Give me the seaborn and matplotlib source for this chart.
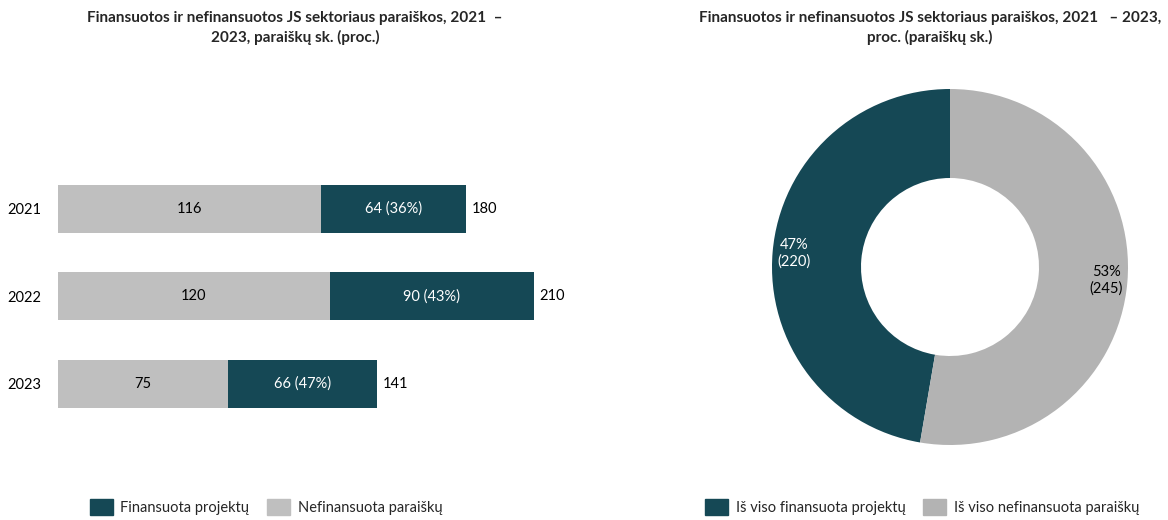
import numpy as np
import pandas as pd
import matplotlib.pyplot as plt
import seaborn as sns
from matplotlib.patches import Patch

# Data

years = ['2021', '2022', '2023']
funded = [64, 90, 66]
not_funded = [116, 120, 75]
funded_pct = [36, 43, 47]

donut_labels = ['Iš viso finansuota projektų', 'Iš viso nefinansuota paraiškų']
donut_values = [220, 245]

teal = '#154855'
bar_grey = '#BFBFBF'
donut_grey = '#B3B3B3'

sns.set_theme(style='white')
plt.rcParams['font.family'] = ['Lato', 'DejaVu Sans']

df = pd.DataFrame({'year': years, 'funded': funded, 'not_funded': not_funded})
df['total'] = df['funded'] + df['not_funded']

fig = plt.figure(figsize=(11.68, 5.2), dpi=100)

# Bars (stacked: total in teal, grey part drawn on top)

ax1 = fig.add_axes([58 / 1168, 0.1615, 521 / 1168, 0.538])
sns.barplot(data=df, x='total', y='year', color=teal, width=0.55, ax=ax1,
            saturation=1, linewidth=0)
sns.barplot(data=df, x='not_funded', y='year', color=bar_grey, width=0.55, ax=ax1,
            saturation=1, linewidth=0)

ax1.bar_label(ax1.containers[0], padding=4, fontsize=10.5, color='black')
ax1.bar_label(ax1.containers[1], label_type='center', fontsize=10.5, color='black')
for i, row in df.iterrows():
    ax1.text((row['not_funded'] + row['total']) / 2, i,
             f"{row['funded']} ({funded_pct[i]}%)",
             ha='center', va='center', color='white', fontsize=10.5)

ax1.set_xlim(0, 230)
ax1.set_ylim(2.6, -0.6)
ax1.set_xlabel('')
ax1.set_ylabel('')
ax1.set_xticks([])
ax1.tick_params(axis='y', length=0, pad=12, labelsize=10.5, labelcolor='black')
sns.despine(ax=ax1, left=True, bottom=True)

fig.text(295 / 1168, 1 - 28 / 520,
         'Finansuotos ir nefinansuotos JS sektoriaus paraiškos, 2021  –\n2023, paraiškų sk. (proc.)',
         ha='center', va='center', fontsize=11, fontweight='bold', linespacing=1.4)

fig.legend(handles=[Patch(color=teal, label='Finansuota projektų'),
                    Patch(color=bar_grey, label='Nefinansuota paraiškų')],
           loc='center', bbox_to_anchor=(266 / 1168, 1 - 507 / 520), ncol=2,
           frameon=False, fontsize=10.5, handlelength=1.6, handleheight=1.4,
           handletextpad=0.5, columnspacing=1.2)

# Donut

total = sum(donut_values)
ax2 = fig.add_axes([(950 - 200) / 1168, 1 - (267 + 200) / 520, 400 / 1168, 400 / 520])
wedges, texts, autotexts = ax2.pie(
    donut_values, colors=[teal, donut_grey], startangle=90,
    wedgeprops=dict(width=0.5, linewidth=0), pctdistance=0.88,
    autopct=lambda p: f"{p:.0f}%\n({round(p * total / 100)})",
    textprops=dict(fontsize=10.5))
autotexts[0].set_color('white')
autotexts[1].set_color('black')
lim = 200 / 178
ax2.set_xlim(-lim, lim)
ax2.set_ylim(-lim, lim)
ax2.set_aspect('equal')

fig.text(930 / 1168, 1 - 28 / 520,
         'Finansuotos ir nefinansuotos JS sektoriaus paraiškos, 2021   – 2023,\nproc. (paraiškų sk.)',
         ha='center', va='center', fontsize=11, fontweight='bold', linespacing=1.4)

fig.legend(handles=[Patch(color=teal, label=donut_labels[0]),
                    Patch(color=donut_grey, label=donut_labels[1])],
           loc='center', bbox_to_anchor=(922 / 1168, 1 - 507 / 520), ncol=2,
           frameon=False, fontsize=10.5, handlelength=1.6, handleheight=1.4,
           handletextpad=0.5, columnspacing=1.2)

fig.savefig('out.png', dpi=100)
